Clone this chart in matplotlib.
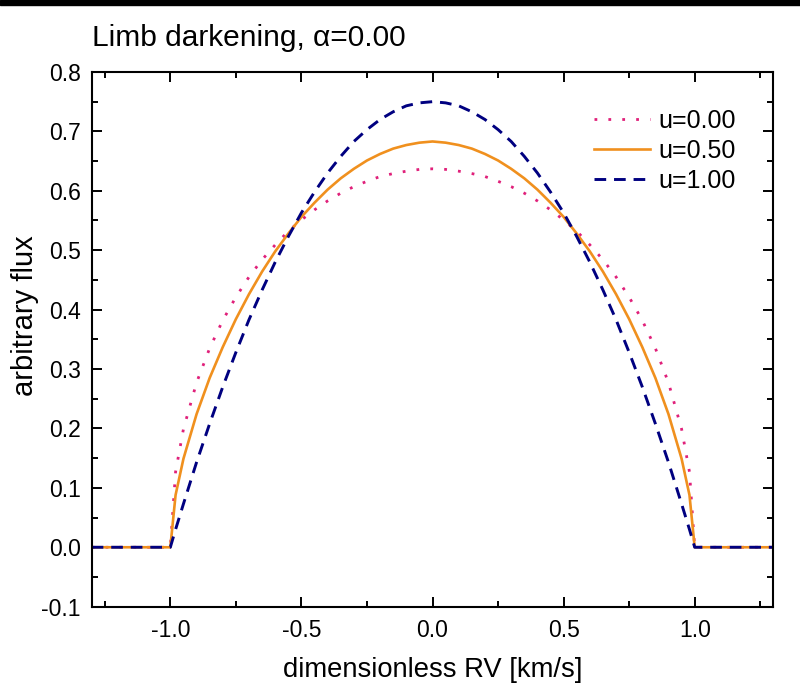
import matplotlib.pyplot as plt
from matplotlib.patches import Rectangle

plt.rcParams['font.family'] = ['Liberation Sans', 'DejaVu Sans']

x = [-1.30, -1.00, -0.98, -0.95, -0.90, -0.85, -0.80, -0.75, -0.70, -0.65, -0.60,
     -0.55, -0.50, -0.45, -0.40, -0.35, -0.30, -0.25, -0.20, -0.15, -0.10, -0.05,
     0.00, 0.05, 0.10, 0.15, 0.20, 0.25, 0.30, 0.35, 0.40, 0.45, 0.50, 0.55,
     0.60, 0.65, 0.70, 0.75, 0.80, 0.85, 0.90, 0.95, 0.98, 1.00, 1.30]

half_u0 = [0.127, 0.199, 0.277, 0.335, 0.382, 0.421, 0.455, 0.484, 0.509, 0.532,
           0.551, 0.568, 0.583, 0.596, 0.607, 0.616, 0.624, 0.629, 0.633, 0.636]
half_u5 = [0.088, 0.149, 0.224, 0.285, 0.337, 0.384, 0.426, 0.464, 0.498, 0.528,
           0.556, 0.580, 0.602, 0.621, 0.637, 0.651, 0.662, 0.671, 0.677, 0.681]
half_u1 = [0.030, 0.073, 0.143, 0.208, 0.270, 0.328, 0.383, 0.433, 0.480, 0.523,
           0.563, 0.598, 0.630, 0.658, 0.683, 0.703, 0.720, 0.733, 0.743, 0.748]
peak_u0 = 0.637
peak_u5 = 0.683
peak_u1 = 0.750

flux_u0 = [0.0, 0.0] + half_u0 + [peak_u0] + half_u0[::-1] + [0.0, 0.0]
flux_u5 = [0.0, 0.0] + half_u5 + [peak_u5] + half_u5[::-1] + [0.0, 0.0]
flux_u1 = [0.0, 0.0] + half_u1 + [peak_u1] + half_u1[::-1] + [0.0, 0.0]

labels = ['u=0.00', 'u=0.50', 'u=1.00']

fig = plt.figure(figsize=(8, 6.92), dpi=100)
ax = fig.add_axes([0.1146, 0.1233, 0.8521, 0.7727])

ax.plot(x, flux_u0, color='#e0207a', lw=2.0, linestyle=(0, (1, 4.0)), label=labels[0])
ax.plot(x, flux_u5, color='#f0901e', lw=1.9, label=labels[1])
ax.plot(x, flux_u1, color='#000080', lw=2.1, linestyle=(0, (4.0, 2.7)), label=labels[2])

ax.set_xlim(-1.3, 1.3)
ax.set_ylim(-0.1, 0.8)
ax.set_xticks([-1.0, -0.5, 0.0, 0.5, 1.0])
ax.set_xticks([-1.25, -0.75, -0.25, 0.25, 0.75, 1.25], minor=True)
ax.set_yticks([-0.1, 0.0, 0.1, 0.2, 0.3, 0.4, 0.5, 0.6, 0.7, 0.8])
ax.set_yticks([-0.05, 0.05, 0.15, 0.25, 0.35, 0.45, 0.55, 0.65, 0.75], minor=True)
ax.xaxis.set_major_formatter(plt.FormatStrFormatter('%.1f'))
ax.yaxis.set_major_formatter(plt.FormatStrFormatter('%.1f'))

for s in ax.spines.values():
    s.set_linewidth(1.5)
ax.tick_params(which='both', direction='in', top=True, right=True, width=1.4,
               labelsize=16.5)
ax.tick_params(which='major', length=7.5)
ax.tick_params(which='minor', length=4.5)
ax.tick_params(axis='x', which='major', pad=9)
ax.tick_params(axis='y', which='major', pad=8)

ax.set_xlabel('dimensionless RV [km/s]', fontsize=19.7, labelpad=11)
fig.text(25 / 800, 1 - 316 / 692, 'arbitrary flux', fontsize=21, rotation=90,
         ha='center', va='center')

ax.legend(loc='upper right', bbox_to_anchor=(0.97, 0.964), frameon=False,
          fontsize=18, handlelength=2.25, handletextpad=0.3, labelspacing=0.25,
          borderaxespad=0.3)

fig.text(0.1146, 1 - 38 / 692, 'Limb darkening, \u03b1=0.00', fontsize=21.5,
         va='center', ha='left')

# black strip along the top edge of the screenshot
fig.patches.append(Rectangle((0, 1 - 5 / 692), 1, 5 / 692, transform=fig.transFigure,
                             color='black', zorder=10))

fig.savefig('out.png', dpi=100)
